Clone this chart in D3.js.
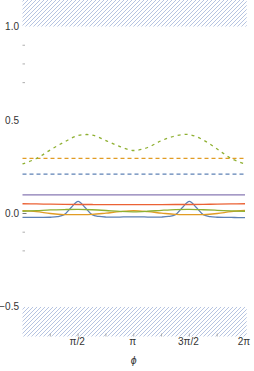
<!DOCTYPE html>
<html>
<head>
<meta charset="utf-8">
<script src="https://cdn.jsdelivr.net/npm/d3@7"></script>
<style>
  body { margin: 0; background: #fff; }
  svg { display: block; font-family: "Liberation Sans", Arial, sans-serif; }
</style>
</head>
<body>
<svg width="254" height="371"></svg>
<script>
const PI = Math.PI;

// phi grids
const phiEnds = [0, 2 * PI];
const phi8 = d3.range(17).map(k => k * PI / 8);   // step pi/8
const phi16 = d3.range(33).map(k => k * PI / 16); // step pi/16

// solid series
const blueSolid = [-0.021, -0.021, -0.021, -0.021, -0.020, -0.017, -0.006, 0.032, 0.065, 0.032, -0.006, -0.016, -0.019, -0.019, -0.019, -0.018,
                   -0.018, -0.018, -0.019, -0.019, -0.019, -0.016, -0.006, 0.032, 0.065, 0.032, -0.006, -0.017, -0.020, -0.021, -0.021, -0.022, -0.022];
const orangeSolid = [0.015, 0.010, 0.000, -0.006, -0.006, -0.005, 0.002, 0.010, 0.015, 0.010, 0.002, -0.005, -0.006, -0.006, 0.000, 0.010, 0.016];
const greenSolid = [0.012, 0.015, 0.019, 0.021, 0.022, 0.020, 0.016, 0.011, 0.009, 0.012, 0.017, 0.021, 0.022, 0.020, 0.017, 0.014, 0.012];
const redSolid = [0.052, 0.051, 0.050, 0.049, 0.048, 0.048, 0.047, 0.047, 0.047, 0.047, 0.047, 0.048, 0.048, 0.049, 0.050, 0.051, 0.052];
const purpleSolid = [0.100, 0.100];

// dashed series
const blueDashed = [0.211, 0.211];
const orangeDashed = [0.295, 0.295];
const greenDashed = [0.265, 0.294, 0.340, 0.382, 0.417, 0.420, 0.390, 0.358, 0.337, 0.353, 0.390, 0.415, 0.422, 0.393, 0.345, 0.294, 0.265];

// axes
const yLabels = [1.0, 0.5, 0.0, -0.5];
const yMinorTicks = [0.9, 0.8, 0.7, -0.1, -0.2];
const xLabelVals = [PI / 2, PI, 3 * PI / 2, 2 * PI];
const xLabelText = ["π/2", "π", "3π/2", "2π"];
const xMinorTicks = [PI / 4, PI / 2, 3 * PI / 4, PI, 5 * PI / 4, 3 * PI / 2, 7 * PI / 4];

// forbidden bands
const bandTop = [1.0, 1.142];
const bandBottom = [-0.658, -0.5];

const svg = d3.select("svg");

const x = d3.scaleLinear().domain([0, 2 * PI]).range([22.5, 245]);
const y = d3.scaleLinear().domain([-0.658, 1.142]).range([336.5, 0]);
const xLeft = x(0), xRight = 246.7;

// hatch pattern
const defs = svg.append("defs");
const pat = defs.append("pattern")
    .attr("id", "hatch")
    .attr("patternUnits", "userSpaceOnUse")
    .attr("width", 4)
    .attr("height", 4);
pat.append("path")
    .attr("d", "M0,4 L4,0 M-1,1 L1,-1 M3,5 L5,3")
    .attr("stroke", "#4f72b8")
    .attr("stroke-width", 0.7)
    .attr("stroke-opacity", 0.6);

[bandTop, bandBottom].forEach(b => {
    svg.append("rect")
        .attr("x", xLeft)
        .attr("y", y(b[1]))
        .attr("width", xRight - xLeft)
        .attr("height", y(b[0]) - y(b[1]))
        .attr("fill", "url(#hatch)");
});

// ticks
svg.selectAll(".ymin").data(yMinorTicks).enter().append("line")
    .attr("x1", xLeft).attr("x2", xLeft + 2.5)
    .attr("y1", d => y(d)).attr("y2", d => y(d))
    .attr("stroke", "#999").attr("stroke-width", 0.8);

svg.append("line")
    .attr("x1", xLeft).attr("x2", xLeft + 4)
    .attr("y1", y(0)).attr("y2", y(0))
    .attr("stroke", "#555").attr("stroke-width", 0.8);

svg.selectAll(".xmin").data(xMinorTicks).enter().append("line")
    .attr("x1", d => x(d)).attr("x2", d => x(d))
    .attr("y1", y(-0.658)).attr("y2", y(-0.658) - 3)
    .attr("stroke", "#999").attr("stroke-width", 0.8);

svg.selectAll(".ylab").data(yLabels).enter().append("text")
    .attr("x", 19)
    .attr("y", d => y(d))
    .attr("dy", "0.35em")
    .attr("text-anchor", "end")
    .attr("font-size", "10px")
    .attr("fill", "#333")
    .text(d => d < 0 ? "\u2212" + Math.abs(d).toFixed(1) : d.toFixed(1));

svg.selectAll(".xlab").data(xLabelVals).enter().append("text")
    .attr("x", d => x(d) - 1)
    .attr("y", 345)
    .attr("text-anchor", "middle")
    .attr("font-size", "10px")
    .attr("fill", "#333")
    .text((d, i) => xLabelText[i]);

svg.append("text")
    .attr("x", x(PI))
    .attr("y", 364)
    .attr("text-anchor", "middle")
    .attr("font-size", "10.5px")
    .attr("font-style", "italic")
    .attr("fill", "#333")
    .text("ϕ");

// curves
const line = d3.line()
    .x(d => x(d[0]))
    .y(d => y(d[1]))
    .curve(d3.curveCatmullRom);

const series = [
    { phi: phi16, v: blueSolid, color: "#5E81B5", dash: null },
    { phi: phi8, v: orangeSolid, color: "#E19C24", dash: null },
    { phi: phi8, v: greenSolid, color: "#8FB032", dash: null },
    { phi: phi8, v: redSolid, color: "#EB6235", dash: null },
    { phi: phiEnds, v: purpleSolid, color: "#8778B3", dash: null },
    { phi: phiEnds, v: blueDashed, color: "#5E81B5", dash: "4,3" },
    { phi: phiEnds, v: orangeDashed, color: "#E19C24", dash: "4,3" },
    { phi: phi8, v: greenDashed, color: "#8FB032", dash: "3,4" }
];

series.forEach(s => {
    svg.append("path")
        .datum(s.phi.map((p, i) => [p, s.v[i]]))
        .attr("d", line)
        .attr("fill", "none")
        .attr("stroke", s.color)
        .attr("stroke-width", 1.3)
        .attr("stroke-dasharray", s.dash);
});
</script>
</body>
</html>
